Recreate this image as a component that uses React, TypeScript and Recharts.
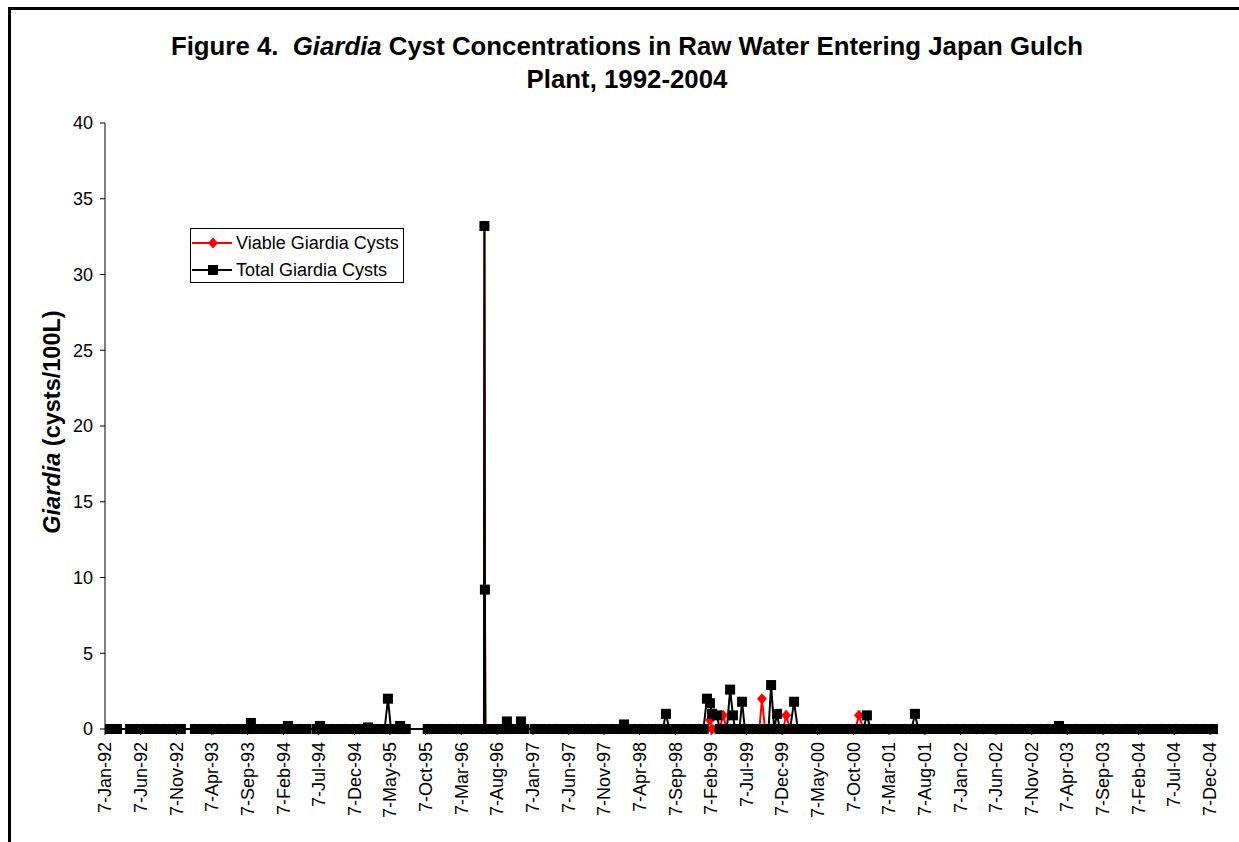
import React from "react";
import { LineChart, Line, XAxis, YAxis, Legend } from "recharts";

const FONT = '"Liberation Sans", Arial, sans-serif';

// x-axis labels (Excel date axis, every 5 months)
const tickLabels = [
  "7-Jan-92", "7-Jun-92", "7-Nov-92", "7-Apr-93", "7-Sep-93", "7-Feb-94", "7-Jul-94", "7-Dec-94",
  "7-May-95", "7-Oct-95", "7-Mar-96", "7-Aug-96", "7-Jan-97", "7-Jun-97", "7-Nov-97", "7-Apr-98",
  "7-Sep-98", "7-Feb-99", "7-Jul-99", "7-Dec-99", "7-May-00", "7-Oct-00", "7-Mar-01", "7-Aug-01",
  "7-Jan-02", "7-Jun-02", "7-Nov-02", "7-Apr-03", "7-Sep-03", "7-Feb-04", "7-Jul-04", "7-Dec-04",
];

// sampling dates where both counts were 0
const zeroDates = [
  "1992-01-07", "1992-02-03", "1992-02-27", "1992-04-23", "1992-05-20", "1992-06-17", "1992-07-15",
  "1992-08-12", "1992-09-09", "1992-10-07", "1992-11-04", "1992-11-26",
  "1993-01-25", "1993-02-15", "1993-03-15", "1993-04-15", "1993-05-15", "1993-06-15", "1993-07-15",
  "1993-08-15", "1993-09-08", "1993-10-05", "1993-11-15", "1993-12-15",
  "1994-01-15", "1994-02-12", "1994-03-15", "1994-04-15", "1994-05-15", "1994-06-28", "1994-07-28",
  "1994-08-28", "1994-09-28", "1994-10-28", "1994-11-28", "1994-12-28",
  "1995-01-20", "1995-02-17", "1995-03-15", "1995-04-15", "1995-05-12", "1995-06-08", "1995-07-05",
  "1995-07-14", "1995-10-16", "1995-11-15", "1995-12-15",
  "1996-01-15", "1996-02-15", "1996-03-15", "1996-04-15", "1996-05-15", "1996-06-12", "1996-06-18",
  "1996-07-15", "1996-08-20", "1996-09-06", "1996-10-05", "1996-11-04", "1996-12-01",
  "1997-01-15", "1997-02-15", "1997-03-15", "1997-04-15", "1997-05-15", "1997-06-15", "1997-07-15",
  "1997-08-15", "1997-09-15", "1997-10-15", "1997-11-15", "1997-12-15",
  "1998-01-15", "1998-02-15", "1998-03-15", "1998-04-15", "1998-05-15", "1998-06-15", "1998-07-15",
  "1998-08-12", "1998-09-15", "1998-10-15", "1998-11-15", "1998-12-15",
  "1999-01-05", "1999-03-15", "1999-04-15", "1999-05-20", "1999-06-08", "1999-07-01", "1999-08-01",
  "1999-09-01", "1999-09-25", "1999-10-10", "1999-11-03", "1999-11-27", "1999-12-12",
  "2000-01-10", "2000-02-12", "2000-03-15", "2000-04-15", "2000-05-15", "2000-06-15", "2000-07-15",
  "2000-08-15", "2000-09-15", "2000-10-15", "2000-11-18", "2000-12-18",
  "2001-01-15", "2001-02-15", "2001-03-15", "2001-04-15", "2001-05-15", "2001-06-12", "2001-07-10",
  "2001-08-15", "2001-09-15", "2001-10-15", "2001-11-15", "2001-12-15",
  "2002-01-15", "2002-02-15", "2002-03-15", "2002-04-15", "2002-05-15", "2002-06-15", "2002-07-15",
  "2002-08-15", "2002-09-15", "2002-10-15", "2002-11-15", "2002-12-15",
  "2003-01-15", "2003-02-15", "2003-03-18", "2003-04-15", "2003-05-15", "2003-06-15", "2003-07-15",
  "2003-08-15", "2003-09-15", "2003-10-15", "2003-11-15", "2003-12-15",
  "2004-01-15", "2004-02-15", "2004-03-15", "2004-04-15", "2004-05-15", "2004-06-15", "2004-07-15",
  "2004-08-15", "2004-09-15", "2004-10-15", "2004-11-15", "2004-12-15", "2005-01-03",
];

// sampling dates with cysts found
const eventDates = [
  "1993-09-21", "1994-02-26", "1994-07-13", "1995-02-03", "1995-04-29", "1995-06-20",
  "1996-06-14", "1996-06-16", "1996-09-18", "1996-11-17", "1998-01-31", "1998-07-29",
  "1999-01-20", "1999-02-02", "1999-02-11", "1999-03-04", "1999-03-30", "1999-04-29",
  "1999-05-11", "1999-06-19", "1999-09-12", "1999-10-21", "1999-11-15", "1999-12-24",
  "2000-01-27", "2000-10-30", "2000-12-03", "2001-06-26", "2003-03-03",
];
const eventViable = [
  0, 0, 0, 0, 0, 0,
  33.2, 9.2, 0, 0, 0, 0,
  0, 0.6, 0, 0, 0.9, 0,
  0, 0, 2.0, 0, 0, 0.9,
  0, 0.9, 0, 0, 0,
];
const eventTotal = [
  0.4, 0.2, 0.2, 0.1, 2.0, 0.2,
  33.2, 9.2, 0.5, 0.5, 0.3, 1.0,
  2.0, 1.7, 1.0, 0.9, 0, 2.6,
  0.9, 1.8, 0, 2.9, 1.0, 0,
  1.8, 0, 0.9, 1.0, 0.2,
];

const yTicks = [0, 5, 10, 15, 20, 25, 30, 35, 40];

const MONTHS = ["Jan", "Feb", "Mar", "Apr", "May", "Jun", "Jul", "Aug", "Sep", "Oct", "Nov", "Dec"];

const toTime = (s: string) => {
  const [y, m, d] = s.split("-").map(Number);
  return Date.UTC(y, m - 1, d);
};

const tickToTime = (s: string) => {
  const [d, mon, yy] = s.split("-");
  const y = Number(yy) < 50 ? 2000 + Number(yy) : 1900 + Number(yy);
  return Date.UTC(y, MONTHS.indexOf(mon), Number(d));
};

const tickTimes = tickLabels.map(tickToTime);
const labelByTime: { [key: number]: string } = {};
tickTimes.forEach((t, i) => (labelByTime[t] = tickLabels[i]));

const chartData = [
  ...zeroDates.map((d) => ({ t: toTime(d), viable: 0, total: 0 })),
  ...eventDates.map((d, i) => ({ t: toTime(d), viable: eventViable[i], total: eventTotal[i] })),
].sort((a, b) => a.t - b.t);

const X_MIN = Date.UTC(1992, 0, 7);
const X_MAX = Date.UTC(2005, 0, 10);

const renderSquare = (props: any) => {
  const { cx, cy, index } = props;
  if (cx == null || cy == null) return <g key={`s-${index}`} />;
  return <rect key={`s-${index}`} x={cx - 5} y={cy - 5} width={10} height={10} fill="#000" />;
};

const renderDiamond = (props: any) => {
  const { cx, cy, index } = props;
  if (cx == null || cy == null) return <g key={`d-${index}`} />;
  return (
    <polygon
      key={`d-${index}`}
      points={`${cx},${cy - 5.5} ${cx + 5},${cy} ${cx},${cy + 5.5} ${cx - 5},${cy}`}
      fill="#ff0000"
    />
  );
};

const XTick = (props: any) => {
  const { x, y, payload } = props;
  return (
    <text
      x={x}
      y={y}
      transform={`rotate(-90 ${x} ${y})`}
      textAnchor="end"
      dy="0.35em"
      fontFamily={FONT}
      fontSize={18}
      fill="#000"
    >
      {labelByTime[payload.value]}
    </text>
  );
};

const YTitle = () => (
  <text
    x={52}
    y={422}
    transform="rotate(-90 52 422)"
    textAnchor="middle"
    dominantBaseline="central"
    fontFamily={FONT}
    fontSize={23.5}
    fontWeight="bold"
    fill="#000"
  >
    <tspan fontStyle="italic">Giardia</tspan>
    <tspan> (cysts/100L)</tspan>
  </text>
);

const LegendBox = () => {
  const row = (label: string, color: string, marker: "d" | "s") => (
    <div style={{ display: "flex", alignItems: "center", height: 27 }}>
      <svg width={42} height={14} style={{ marginLeft: 1 }}>
        <line x1={0} y1={7} x2={40} y2={7} stroke={color} strokeWidth={2} />
        {marker === "s" ? (
          <rect x={16} y={2} width={10} height={10} fill={color} />
        ) : (
          <polygon points="21,1.5 26,7 21,12.5 16,7" fill={color} />
        )}
      </svg>
      <span style={{ marginLeft: 2 }}>{label}</span>
    </div>
  );
  return (
    <div
      style={{
        width: 212,
        height: 53,
        border: "1px solid #000",
        background: "#fff",
        fontFamily: FONT,
        fontSize: 18,
        color: "#000",
        lineHeight: "20px",
      }}
    >
      {row("Viable Giardia Cysts", "#ff0000", "d")}
      {row("Total Giardia Cysts", "#000000", "s")}
    </div>
  );
};

export default function App() {
  return (
    <div style={{ position: "relative", width: 1239, height: 842, background: "#fff", overflow: "hidden" }}>
      <style>{"body{margin:0;overflow:hidden;}"}</style>
      <div
        style={{
          position: "absolute",
          left: 8,
          top: 7,
          width: 1300,
          height: 900,
          borderLeft: "3px solid #000",
          borderTop: "3px solid #000",
        }}
      />
      <div
        style={{
          position: "absolute",
          left: 27,
          top: 30,
          width: 1200,
          textAlign: "center",
          fontFamily: FONT,
          fontSize: 25.8,
          fontWeight: "bold",
          lineHeight: "33px",
          whiteSpace: "pre",
          color: "#000",
        }}
      >
        {"Figure 4.  "}
        <i>Giardia</i>
        {" Cyst Concentrations in Raw Water Entering Japan Gulch"}
        <br />
        {"Plant, 1992-2004"}
      </div>
      <div style={{ position: "absolute", left: 0, top: 0 }}>
        <LineChart
          width={1239}
          height={842}
          data={chartData}
          margin={{ top: 123, right: 21, bottom: 13, left: 45 }}
        >
          <XAxis
            dataKey="t"
            type="number"
            domain={[X_MIN, X_MAX]}
            allowDataOverflow
            ticks={tickTimes}
            interval={0}
            height={100}
            tickSize={6}
            tickMargin={7}
            tick={<XTick />}
            axisLine={{ stroke: "#000" }}
            tickLine={{ stroke: "#000" }}
          />
          <YAxis
            type="number"
            domain={[0, 40]}
            ticks={yTicks}
            interval={0}
            width={60}
            tickSize={5}
            tickMargin={7}
            tick={{ fill: "#000", fontSize: 18, fontFamily: FONT }}
            axisLine={{ stroke: "#000" }}
            tickLine={{ stroke: "#000" }}
            label={<YTitle />}
          />
          <Legend
            layout="vertical"
            align="center"
            verticalAlign="middle"
            width={214}
            height={55}
            wrapperStyle={{ left: 190, top: 228, width: 214, height: 55 }}
            content={() => <LegendBox />}
          />
          <Line
            type="linear"
            dataKey="viable"
            name="Viable Giardia Cysts"
            stroke="#ff0000"
            strokeWidth={2}
            dot={renderDiamond}
            activeDot={false}
            isAnimationActive={false}
          />
          <Line
            type="linear"
            dataKey="total"
            name="Total Giardia Cysts"
            stroke="#000000"
            strokeWidth={2}
            dot={renderSquare}
            activeDot={false}
            isAnimationActive={false}
          />
        </LineChart>
      </div>
    </div>
  );
}
